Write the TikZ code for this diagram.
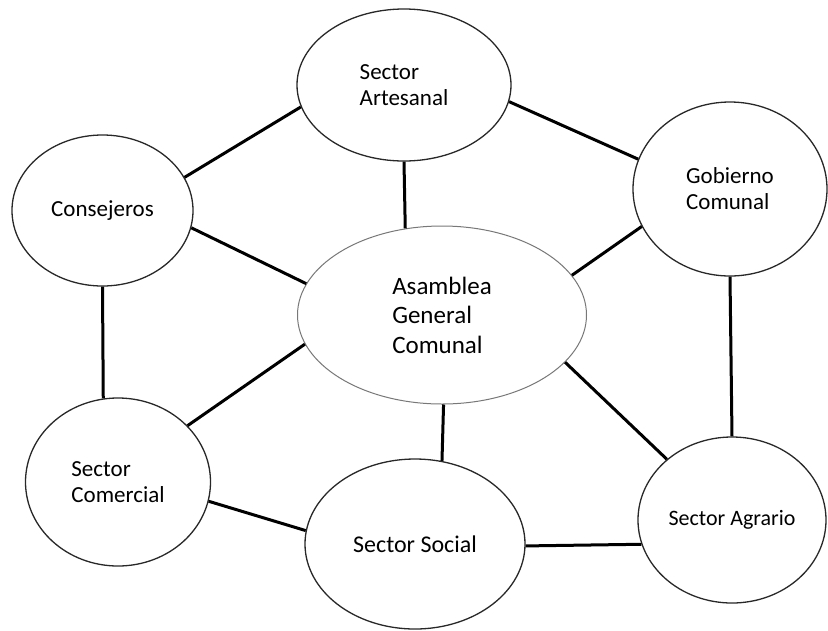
\documentclass[tikz,border=0pt]{standalone}
\usepackage{fontspec}
\setmainfont{Carlito}
\usetikzlibrary{shapes.geometric}
\tikzset{
  org/.style={ellipse, draw={rgb,255:red,40;green,40;blue,40}, line width=1.3pt, fill=white,
    inner sep=0pt, align=left, font=\fontsize{23}{26}\selectfont, text=black},
  link/.style={line width=3pt, black}
}
\begin{document}
\begin{tikzpicture}[x=1pt,y=-1pt]
\useasboundingbox[fill=white] (0,0) rectangle (828,630);
\node[org, minimum width=214pt, minimum height=152pt] (art) at (404,85) {Sector\\Artesanal};
\node[org, minimum width=181pt, minimum height=151pt] (cons) at (102.5,210.5) {Consejeros};
\node[org, minimum width=194pt, minimum height=174pt] (gob) at (730,189) {Gobierno\\Comunal};
\node[org, draw={rgb,255:red,120;green,120;blue,120}, line width=1pt, minimum width=289pt, minimum height=178pt,
  font=\fontsize{25}{29.5}\selectfont] (asam) at (442,315) {Asamblea\\General\\Comunal};
\node[org, minimum width=185pt, minimum height=168pt] (com) at (118,482) {Sector\\Comercial};
\node[org, minimum width=220pt, minimum height=170pt, font=\fontsize{24}{28}\selectfont] (soc) at (415,544) {Sector Social};
\node[org, minimum width=188pt, minimum height=166pt, font=\fontsize{22}{26}\selectfont] (agr) at (732,520) {Sector Agrario};
\draw[link] (cons.22.9) -- (art.192.8);
\draw[link] (cons.-11.2) -- (asam.167.3);
\draw[link] (cons.-90) -- (com.100.1);
\draw[link] (art.-90) -- (asam.113.4);
\draw[link] (art.-9.1) -- (gob.162.7);
\draw[link] (gob.203.3) -- (asam.17.8);
\draw[link] (gob.-90) -- (agr.90);
\draw[link] (asam.-21.6) -- (agr.137.7);
\draw[link] (asam.-89.5) -- (soc.72);
\draw[link] (asam.192.9) -- (com.39.4);
\draw[link] (com.-12.7) -- (soc.173.8);
\draw[link] (soc.-1) -- (agr.195.6);
\end{tikzpicture}
\end{document}
